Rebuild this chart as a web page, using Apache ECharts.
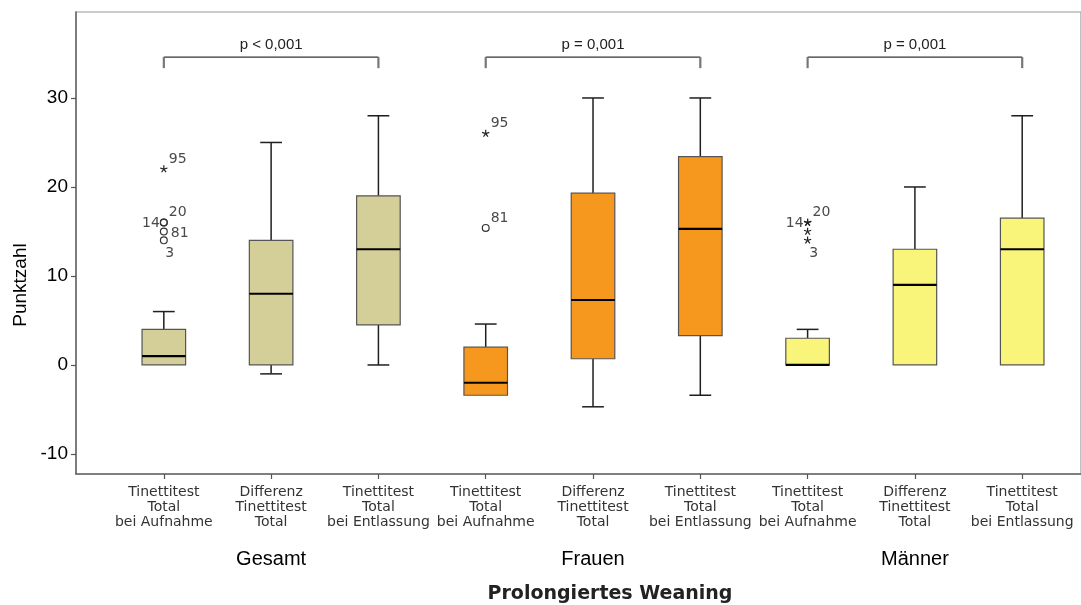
<!DOCTYPE html>
<html>
<head>
<meta charset="utf-8">
<style>
  html, body { margin: 0; padding: 0; background: #fff; }
  #chart { width: 1081px; height: 605px; }
</style>
<script src="https://cdn.jsdelivr.net/npm/echarts@6/dist/echarts.min.js"></script>
</head>
<body>
<div id="chart"></div>
<script>
// Tinetti test scores (Punktzahl) for prolonged weaning, by group
const groups = ['Gesamt', 'Frauen', 'Männer'];
const measures = [
  'Tinettitest\nTotal\nbei Aufnahme',
  'Differenz\nTinettitest\nTotal',
  'Tinettitest\nTotal\nbei Entlassung'
];
const categories = groups.flatMap(() => measures);

// Box statistics, one entry per box (Gesamt x3, Frauen x3, Männer x3)
const whiskerLow  = [0, -1,  0,   -3.4, -4.7, -3.4, 0, 0, 0];
const quartile1   = [0,  0,  4.5, -3.4,  0.7,  3.3, 0, 0, 0];
const median      = [1,  8, 13,   -2,    7.3, 15.3, 0, 9, 13];
const quartile3   = [4, 14, 19,    2,   19.3, 23.4, 3, 13, 16.5];
const whiskerHigh = [6, 25, 28,    4.6, 30,   30,   4, 20, 28];

// Outliers: box index, value, kind, case number
const outlierBox   = [0, 0, 0, 0, 0, 3, 3, 6, 6, 6, 6];
const outlierValue = [22, 16, 16, 15, 14, 26, 15.4, 16, 16, 15, 14];
const outlierKind  = ['extreme', 'mild', 'mild', 'mild', 'mild', 'extreme', 'mild', 'extreme', 'extreme', 'extreme', 'extreme'];
const outlierCase  = ['95', '14', '20', '81', '3', '95', '81', '14', '20', '', '3'];
// where each case number sits around its marker
const outlierLabelSide = ['ur', 'l', 'ur', 'r', 'b', 'ur', 'ur', 'l', 'ur', 'r', 'b'];

// Significance brackets between admission and discharge
const bracketFrom = [0, 3, 6];
const bracketTo   = [2, 5, 8];
const bracketText = ['p < 0,001', 'p = 0,001', 'p = 0,001'];

const yTicks = [-10, 0, 10, 20, 30];

// layout / style constants
const groupColors = ['#d4cf99', '#f7981e', '#f9f57a'];
const BOX_WIDTH = 0.406;       // in category units
const BRACKET_LEVEL = 34.6;
const BRACKET_DROP = 1.25;
const X_MIN = -0.8185, X_MAX = 8.548;
const Y_MIN = -12.25, Y_MAX = 39.66;

const boxData = categories.map((_, i) => [
  i, whiskerLow[i], quartile1[i], median[i], quartile3[i], whiskerHigh[i], Math.floor(i / 3)
]);
const outlierData = outlierBox.map((b, i) => [b, outlierValue[i], i]);
const bracketData = bracketFrom.map((f, i) => [f, bracketTo[i], i]);

function renderBox(params, api) {
  const x = api.value(0);
  const lo = api.coord([x, api.value(1)]);
  const b1 = api.coord([x, api.value(2)]);
  const md = api.coord([x, api.value(3)]);
  const b3 = api.coord([x, api.value(4)]);
  const hi = api.coord([x, api.value(5)]);
  const w = api.size([BOX_WIDTH, 0])[0];
  const cx = lo[0];
  const half = w / 2, cap = w / 4;
  const wStyle = { stroke: '#1f1f1f', lineWidth: 1.5 };
  const children = [];
  if (api.value(5) > api.value(4)) {
    children.push({ type: 'line', shape: { x1: cx, y1: hi[1], x2: cx, y2: b3[1] }, style: wStyle });
    children.push({ type: 'line', shape: { x1: cx - cap, y1: hi[1], x2: cx + cap, y2: hi[1] }, style: wStyle });
  }
  if (api.value(1) < api.value(2)) {
    children.push({ type: 'line', shape: { x1: cx, y1: lo[1], x2: cx, y2: b1[1] }, style: wStyle });
    children.push({ type: 'line', shape: { x1: cx - cap, y1: lo[1], x2: cx + cap, y2: lo[1] }, style: wStyle });
  }
  children.push({
    type: 'rect',
    shape: { x: cx - half, y: b3[1], width: w, height: b1[1] - b3[1] },
    style: { fill: groupColors[api.value(6)], stroke: '#555', lineWidth: 1.2 }
  });
  children.push({
    type: 'line',
    shape: { x1: cx - half, y1: md[1], x2: cx + half, y2: md[1] },
    style: { stroke: '#000', lineWidth: 2.2 }
  });
  return { type: 'group', children };
}

const labelOffsets = {
  ur: { dx: 5, dy: -10, align: 'left' },
  l:  { dx: -4, dy: 1, align: 'right' },
  r:  { dx: 7, dy: 2, align: 'left' },
  b:  { dx: 6, dy: 13, align: 'center' }
};

function renderOutlier(params, api) {
  const p = api.coord([api.value(0), api.value(1)]);
  const i = api.value(2);
  const children = [];
  if (outlierKind[i] === 'mild') {
    children.push({
      type: 'circle', shape: { cx: p[0], cy: p[1], r: 3.4 },
      style: { fill: 'none', stroke: '#333', lineWidth: 1.2 }
    });
  } else {
    const r = 3.8;
    for (let k = 0; k < 5; k++) {
      const a = -Math.PI / 2 + k * 2 * Math.PI / 5;
      children.push({
        type: 'line',
        shape: { x1: p[0], y1: p[1], x2: p[0] + r * Math.cos(a), y2: p[1] + r * Math.sin(a) },
        style: { stroke: '#222', lineWidth: 1.2 }
      });
    }
  }
  if (outlierCase[i]) {
    const o = labelOffsets[outlierLabelSide[i]];
    children.push({
      type: 'text',
      style: {
        text: outlierCase[i], x: p[0] + o.dx, y: p[1] + o.dy,
        align: o.align, verticalAlign: 'middle',
        font: '14px "DejaVu Sans", sans-serif', fill: '#4a4a4a'
      }
    });
  }
  return { type: 'group', children };
}

function renderBracket(params, api) {
  const a = api.coord([api.value(0), BRACKET_LEVEL]);
  const b = api.coord([api.value(1), BRACKET_LEVEL]);
  const drop = api.coord([api.value(0), BRACKET_LEVEL - BRACKET_DROP])[1];
  const i = api.value(2);
  return {
    type: 'group',
    children: [
      { type: 'line', shape: { x1: a[0], y1: a[1], x2: b[0], y2: b[1] }, style: { stroke: '#333', lineWidth: 1.2 } },
      { type: 'line', shape: { x1: a[0], y1: a[1], x2: a[0], y2: drop }, style: { stroke: '#777', lineWidth: 2.2 } },
      { type: 'line', shape: { x1: b[0], y1: b[1], x2: b[0], y2: drop }, style: { stroke: '#777', lineWidth: 2.2 } },
      {
        type: 'text',
        style: {
          text: bracketText[i], x: (a[0] + b[0]) / 2, y: a[1] - 12,
          align: 'center', verticalAlign: 'middle',
          font: '15px "Liberation Sans", Arial, sans-serif', fill: '#222'
        }
      }
    ]
  };
}

const chart = echarts.init(document.getElementById('chart'), null, { renderer: 'canvas' });

chart.setOption({
  animation: false,
  backgroundColor: '#fff',
  grid: {
    left: 76, right: -10, top: 12, bottom: 131,
    show: true, borderColor: '#999', borderWidth: 1.2, backgroundColor: 'transparent'
  },
  xAxis: [
    {
      type: 'value', min: X_MIN, max: X_MAX,
      axisLine: { show: true, onZero: false, lineStyle: { color: '#666', width: 1.5 } },
      axisTick: { show: true, length: 5, customValues: categories.map((_, i) => i), lineStyle: { color: '#555', width: 1.2 } },
      splitLine: { show: false },
      axisLabel: {
        customValues: categories.map((_, i) => i),
        formatter: v => categories[Math.round(v)],
        margin: 11,
        fontFamily: '"DejaVu Sans", sans-serif', fontSize: 14, lineHeight: 15,
        color: '#333', align: 'center'
      }
    },
    {
      type: 'value', min: X_MIN, max: X_MAX, position: 'bottom', offset: 75,
      axisLine: { show: false, onZero: false }, axisTick: { show: false }, splitLine: { show: false },
      axisLabel: {
        customValues: [1, 4, 7],
        formatter: v => groups[Math.round((v - 1) / 3)],
        margin: 0,
        fontFamily: '"Liberation Sans", Arial, sans-serif', fontSize: 20, color: '#000'
      }
    }
  ],
  yAxis: {
    type: 'value', min: Y_MIN, max: Y_MAX,
    axisLine: { show: true, onZero: false, lineStyle: { color: '#666', width: 1.5 } },
    axisTick: { show: true, length: 5, customValues: yTicks, lineStyle: { color: '#555', width: 1.2 } },
    splitLine: { show: false },
    axisLabel: {
      customValues: yTicks, margin: 8,
      fontFamily: '"Liberation Sans", Arial, sans-serif', fontSize: 19, color: '#000'
    }
  },
  graphic: [
    {
      type: 'text', x: 21, y: 285, rotation: Math.PI / 2,
      style: {
        text: 'Punktzahl', align: 'center', verticalAlign: 'middle',
        font: '19px "Liberation Sans", Arial, sans-serif', fill: '#000'
      }
    },
    {
      type: 'text', x: 610, y: 594,
      style: {
        text: 'Prolongiertes Weaning', align: 'center', verticalAlign: 'middle',
        font: 'bold 19px "DejaVu Sans", sans-serif', fill: '#222'
      }
    }
  ],
  series: [
    {
      type: 'custom', name: 'boxes', renderItem: renderBox, data: boxData,
      encode: { x: 0, y: [1, 5] }, clip: false, z: 2
    },
    {
      type: 'custom', name: 'outliers', renderItem: renderOutlier, data: outlierData,
      encode: { x: 0, y: 1 }, clip: false, z: 3
    },
    {
      type: 'custom', name: 'brackets', renderItem: renderBracket, data: bracketData,
      encode: { x: [0, 1] }, clip: false, z: 3
    }
  ]
});
</script>
</body>
</html>
